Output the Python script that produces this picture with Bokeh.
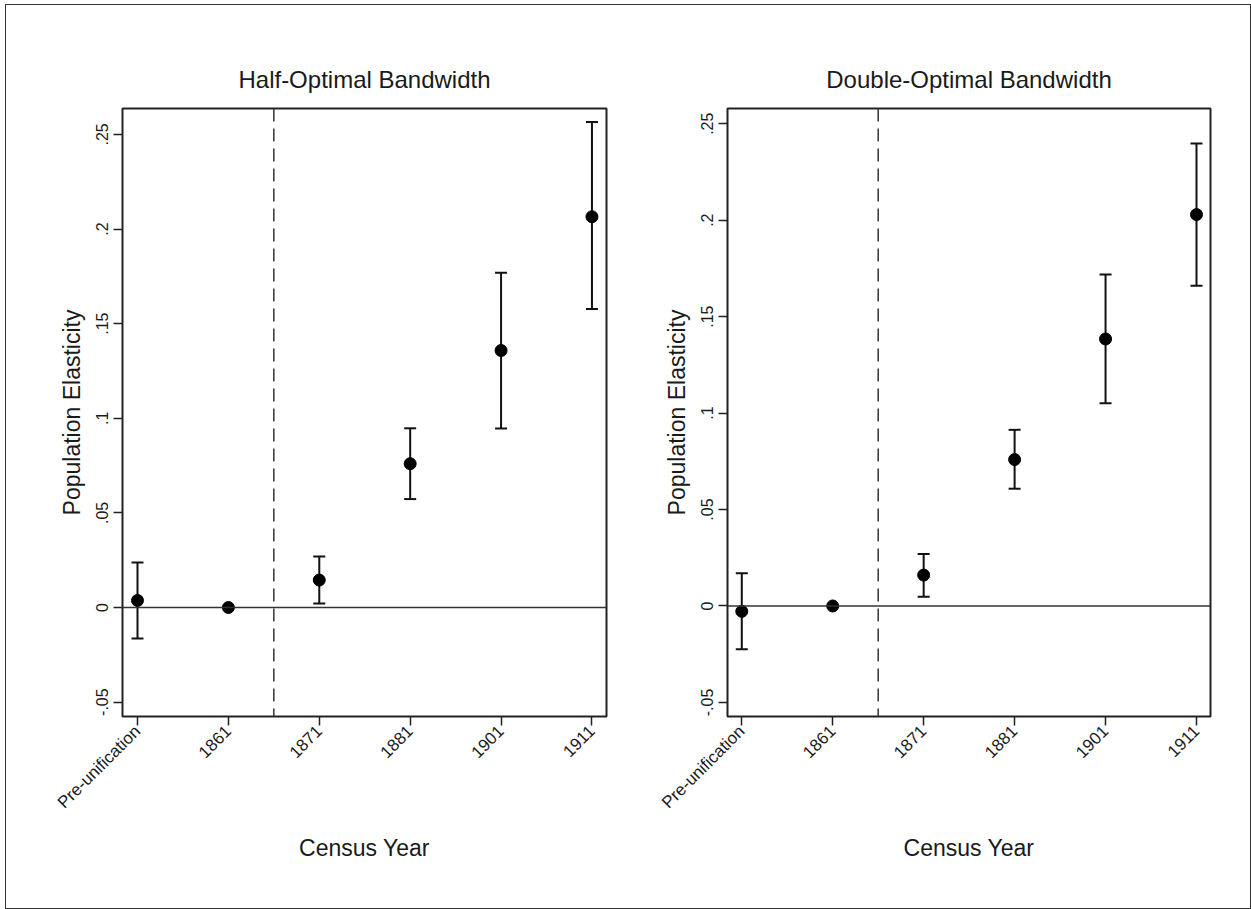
import math
from bokeh.plotting import figure
from bokeh.models import ColumnDataSource, Whisker, TeeHead, Span, FixedTicker, Range1d
from bokeh.layouts import row
from bokeh.embed import file_html
from bokeh.resources import INLINE

# ---- data ----
categories = ["Pre-unification", "1861", "1871", "1881", "1901", "1911"]
x_pos = [0, 1, 2, 3, 4, 5]
unification_break = 1.5  # between the 1861 and 1871 censuses

half_est = [0.0037, 0.0, 0.0145, 0.0760, 0.1358, 0.2065]
half_lo = [-0.0164, float("nan"), 0.0021, 0.0573, 0.0946, 0.1577]
half_hi = [0.0238, float("nan"), 0.0270, 0.0947, 0.1769, 0.2566]

double_est = [-0.0028, 0.0, 0.0160, 0.0759, 0.1384, 0.2029]
double_lo = [-0.0225, float("nan"), 0.0048, 0.0608, 0.1051, 0.1660]
double_hi = [0.0169, float("nan"), 0.0270, 0.0913, 0.1719, 0.2398]

y_ticks = [-0.05, 0.0, 0.05, 0.1, 0.15, 0.2, 0.25]
y_tick_labels = ["-.05", "0", ".05", ".1", ".15", ".2", ".25"]

FONT = "Liberation Sans"
TXT = "#1a1a1a"


def make_panel(title, est, lo, hi, xr, yr, width, mbl, mbr):
    p = figure(width=width, height=903, x_range=Range1d(*xr), y_range=Range1d(*yr),
               output_backend="svg", toolbar_location=None,
               min_border_left=mbl, min_border_right=mbr,
               min_border_top=103, min_border_bottom=192)
    p.background_fill_color = "white"
    p.border_fill_color = "white"
    p.outline_line_color = "#222222"
    p.outline_line_width = 2
    p.xgrid.visible = False
    p.ygrid.visible = False

    p.title.text = title
    p.title.align = "center"
    p.title.text_font = FONT
    p.title.text_font_size = "24px"
    p.title.text_font_style = "normal"
    p.title.text_color = TXT
    p.title.standoff = 31

    # axes
    p.xaxis.ticker = FixedTicker(ticks=x_pos)
    p.xaxis.major_label_overrides = {x: c for x, c in zip(x_pos, categories)}
    p.xaxis.major_label_orientation = math.pi / 4
    p.yaxis.ticker = FixedTicker(ticks=y_ticks)
    p.yaxis.major_label_overrides = {t: l for t, l in zip(y_ticks, y_tick_labels)}
    p.yaxis.major_label_orientation = "vertical"
    for ax in (p.xaxis[0], p.yaxis[0]):
        ax.axis_line_color = None
        ax.major_tick_line_color = "#222222"
        ax.major_tick_line_width = 1.5
        ax.major_tick_out = 9
        ax.major_tick_in = 0
        ax.minor_tick_line_color = None
        ax.major_label_text_font = FONT
        ax.major_label_text_color = TXT
        ax.axis_label_text_font = FONT
        ax.axis_label_text_font_size = "23px"
        ax.axis_label_text_font_style = "normal"
        ax.axis_label_text_color = TXT
    p.yaxis.major_label_text_font_size = "16px"
    p.xaxis.major_label_text_font_size = "17px"
    p.xaxis.axis_label = "Census Year"
    p.yaxis.axis_label = "Population Elasticity"
    p.xaxis.major_label_standoff = 3
    p.yaxis.major_label_standoff = 5
    p.xaxis.axis_label_standoff = 13
    p.yaxis.axis_label_standoff = 9

    # reference lines
    p.add_layout(Span(location=0, dimension="width", line_color="#333333", line_width=1.5))
    p.add_layout(Span(location=unification_break, dimension="height", line_color="#333333",
                      line_width=1.5, line_dash="13 7"))

    # confidence intervals
    keep = [i for i in range(len(x_pos)) if lo[i] == lo[i]]
    ci_src = ColumnDataSource(dict(x=[x_pos[i] for i in keep],
                                   lo=[lo[i] for i in keep],
                                   hi=[hi[i] for i in keep]))
    w = Whisker(base="x", lower="lo", upper="hi", source=ci_src,
                line_color="#111111", line_width=2,
                upper_head=TeeHead(size=12, line_color="#111111", line_width=2),
                lower_head=TeeHead(size=12, line_color="#111111", line_width=2))
    p.add_layout(w)

    # point estimates
    p.scatter(x=x_pos, y=est, size=12, color="black")
    return p


p1 = make_panel("Half-Optimal Bandwidth", half_est, half_lo, half_hi,
                (-0.165, 5.16), (-0.0576, 0.2637), 614, 116, 14)
p2 = make_panel("Double-Optimal Bandwidth", double_est, double_lo, double_hi,
                (-0.157, 5.154), (-0.0573, 0.2579), 630, 107, 40)

layout = row(p1, p2, styles={"border": "1px solid #333333",
                             "margin-left": "5px", "margin-top": "4px"})

open("out.html", "w").write(file_html(layout, INLINE))
